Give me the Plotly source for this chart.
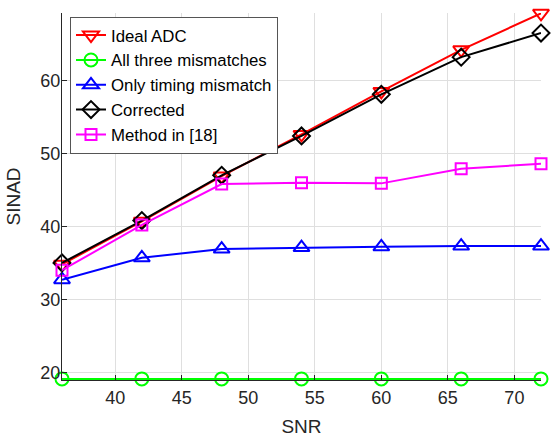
import plotly.graph_objects as go

snr = [36, 42, 48, 54, 60, 66, 72]
ideal_adc = [34.8, 40.7, 46.9, 52.6, 58.5, 64.2, 69.2]
all_three = [19.1, 19.1, 19.1, 19.1, 19.1, 19.1, 19.1]
only_timing = [32.7, 35.7, 36.9, 37.1, 37.2, 37.3, 37.3]
corrected = [35.0, 40.8, 47.0, 52.4, 58.1, 63.2, 66.5]
method18 = [34.0, 40.2, 45.8, 46.0, 45.9, 47.9, 48.6]

x_ticks = [40, 45, 50, 55, 60, 65, 70]
y_ticks = [20, 30, 40, 50, 60]

series = [
    ("Ideal ADC", ideal_adc, "#ff0000", "triangle-down-open", 14),
    ("All three mismatches", all_three, "#00ff00", "circle-open", 13),
    ("Only timing mismatch", only_timing, "#0000ff", "triangle-up-open", 14),
    ("Corrected", corrected, "#000000", "diamond-open", 13),
    ("Method in [18]", method18, "#ff00ff", "square-open", 11),
]

fig = go.Figure()
for name, vals, color, sym, size in series:
    fig.add_trace(go.Scatter(
        x=snr, y=vals, name=name, mode="lines+markers",
        line=dict(color=color, width=2),
        marker=dict(symbol=sym, size=size, color=color, line=dict(color=color, width=2)),
        cliponaxis=False,
    ))

axis_color = "#262626"
fig.update_layout(
    width=551, height=440,
    margin=dict(l=62, r=10, t=13, b=60, autoexpand=False),
    paper_bgcolor="white", plot_bgcolor="white",
    font=dict(family="Liberation Sans, Arial, sans-serif", color=axis_color),
    showlegend=True,
    legend=dict(
        x=0.0167, y=0.99, xanchor="left", yanchor="top",
        bgcolor="white", bordercolor="#555555", borderwidth=1,
        font=dict(size=16.8, color="black"),
        tracegroupgap=0,
    ),
    xaxis=dict(
        range=[36, 72], tickvals=x_ticks, ticks="inside", ticklen=5,
        tickcolor=axis_color, tickfont=dict(size=18, color=axis_color),
        showgrid=True, gridcolor="#dfdfdf", gridwidth=1, automargin=False,
        ticklabelstandoff=1,
        showline=True, linecolor=axis_color, linewidth=1, zeroline=False,
        title=dict(text="SNR", font=dict(size=19, color=axis_color), standoff=13),
    ),
    yaxis=dict(
        range=[18.95, 69.25], tickvals=y_ticks, ticks="inside", ticklen=5,
        tickcolor=axis_color, tickfont=dict(size=18, color=axis_color),
        showgrid=True, gridcolor="#dfdfdf", gridwidth=1, automargin=False,
        ticklabelstandoff=-3,
        showline=True, linecolor=axis_color, linewidth=1, zeroline=False,
        title=dict(text="SINAD", font=dict(size=19, color=axis_color), standoff=14),
    ),
)

fig.write_html("out.html", config={"displayModeBar": False},
               post_script="document.body.style.margin='0px';")
